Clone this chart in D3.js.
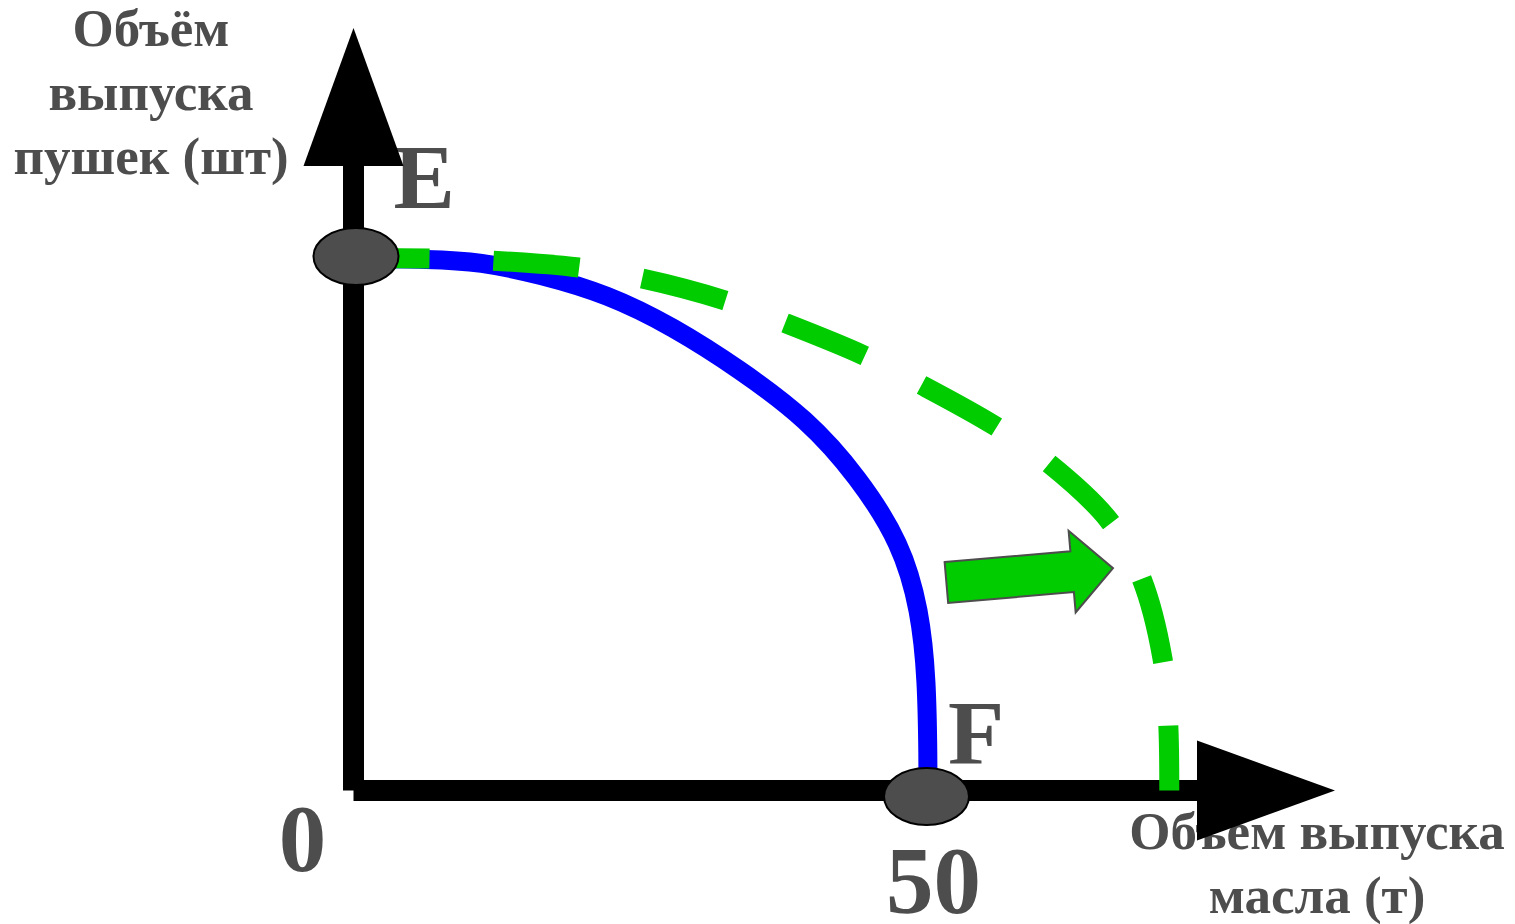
<!DOCTYPE html>
<html lang="ru">
<head>
  <meta charset="UTF-8" />
  <title>Кривая производственных возможностей</title>
  <script src="https://d3js.org/d3.v7.min.js"></script>
  <style>
    html, body { margin: 0; padding: 0; background: #fff; }
    svg { display: block; }
    .lbl { font-family: "Liberation Serif", "Times New Roman", serif; font-weight: bold; fill: #4d4d4d; }
  </style>
</head>
<body>
  <div id="chart"></div>

  <script>
    // исходная граница (синяя) и новая граница (зелёная пунктирная)
    const butterBase = [0, 6.7, 11, 16.2, 22.1, 27.8, 33.6, 39.5, 43.9, 47.7, 49.3, 49.9, 50, 50];
    const gunsBase   = [100, 99.9, 99.4, 97, 93.3, 87.2, 79.2, 69.8, 59, 46.4, 33.8, 21, 5.2, 0];
    const butterNew  = [0, 6.6, 12.1, 19.6, 25, 32.2, 37.3, 44.3, 49.2, 55.7, 60.4, 65.7, 68.5, 70.4, 70.9, 71];
    const gunsNew    = [100, 100, 99.6, 98.3, 96.3, 92.2, 88.1, 81.9, 76.5, 68.7, 61.7, 50.9, 40.3, 24.9, 12.9, 0];

    const pointNames = ["E", "F"];
    const pointButter = [0, 50];
    const pointGuns = [100, 0];

    const xTicks = [0, 50];
    const shiftFrom = [51.6, 39.1];   // стрелка сдвига: начало (масло, пушки)
    const shiftTo = [66.1, 41.8];     // конец

    const yTitle = ["Объём", "выпуска", "пушек (шт)"];
    const xTitle = ["Объем выпуска", "масла (т)"];

    const width = 1515, height = 924;
    const svg = d3.select("#chart").append("svg").attr("width", width).attr("height", height);

    const x = d3.scaleLinear().domain([0, 50]).range([353.5, 928]);
    const y = d3.scaleLinear().domain([0, 100]).range([790.5, 258.5]);

    const x0 = x(0), y0 = y(0);
    const xAxisEnd = 1197, xArrowTip = 1335;
    const yAxisEnd = 166, yArrowTip = 28;

    // подписи осей
    const yt = svg.append("text").attr("class", "lbl").attr("text-anchor", "middle").style("font-size", "53px");
    yTitle.forEach((t, i) => yt.append("tspan").attr("x", 151).attr("y", 46 + i * 64).text(t));

    const xt = svg.append("text").attr("class", "lbl").attr("text-anchor", "middle").style("font-size", "53px");
    xTitle.forEach((t, i) => xt.append("tspan").attr("x", 1317).attr("y", 849 + i * 64).text(t));

    // деления 0 и 50
    svg.append("text").attr("class", "lbl").attr("text-anchor", "middle").style("font-size", "95px")
      .attr("x", x(xTicks[0]) - 51).attr("y", 871).text(xTicks[0]);
    const axisG = svg.append("g").attr("transform", `translate(0,${y0})`)
      .call(d3.axisBottom(x).tickValues([xTicks[1]]).tickSize(0).tickPadding(0));
    axisG.select(".domain").remove();
    axisG.selectAll("text").attr("class", "lbl").attr("dy", null).attr("y", 122).attr("dx", 5)
      .style("font-size", "95px").style("font-family", "Liberation Serif").style("font-weight", "bold").attr("fill", "#4d4d4d");

    // буквы точек
    svg.selectAll(".ptname").data(pointNames).enter().append("text")
      .attr("class", "lbl ptname").style("font-size", "92px")
      .attr("x", (d, i) => x(pointButter[i]) + (i === 0 ? 40 : 20))
      .attr("y", (d, i) => y(pointGuns[i]) - (i === 0 ? 51 : 27))
      .text(d => d);

    // оси
    svg.append("line").attr("x1", x0).attr("y1", y0).attr("x2", x0).attr("y2", yAxisEnd)
      .attr("stroke", "#000").attr("stroke-width", 21);
    svg.append("line").attr("x1", x0).attr("y1", y0).attr("x2", xAxisEnd).attr("y2", y0)
      .attr("stroke", "#000").attr("stroke-width", 21);
    svg.append("polygon").attr("fill", "#000")
      .attr("points", [[x0, yArrowTip], [x0 - 50, yAxisEnd], [x0 + 50, yAxisEnd]].join(" "));
    svg.append("polygon").attr("fill", "#000")
      .attr("points", [[xArrowTip, y0], [xAxisEnd, y0 - 50], [xAxisEnd, y0 + 50]].join(" "));

    const smooth = d3.line().x(d => x(d[0])).y(d => y(d[1])).curve(d3.curveBasis);
    const line = d3.line().x(d => x(d[0])).y(d => y(d[1])).curve(d3.curveCatmullRom.alpha(0.5));

    svg.append("path").datum(d3.zip(butterBase, gunsBase))
      .attr("d", smooth).attr("fill", "none").attr("stroke", "#0000ff").attr("stroke-width", 19);

    svg.append("path").datum(d3.zip(butterNew, gunsNew))
      .attr("d", line).attr("fill", "none").attr("stroke", "#00cc00").attr("stroke-width", 20)
      .attr("stroke-dasharray", "86 64").attr("stroke-dashoffset", 10);

    // точки E и F
    svg.selectAll(".pt").data(pointNames).enter().append("ellipse")
      .attr("class", "pt")
      .attr("cx", (d, i) => x(pointButter[i]) + (i === 0 ? 2.5 : -1.5))
      .attr("cy", (d, i) => y(pointGuns[i]) + (i === 0 ? -2 : 6))
      .attr("rx", 42.5).attr("ry", 28.5)
      .attr("fill", "#4d4d4d").attr("stroke", "#000").attr("stroke-width", 2);

    // стрелка сдвига
    const T = [x(shiftFrom[0]), y(shiftFrom[1])], P = [x(shiftTo[0]), y(shiftTo[1])];
    const len = Math.hypot(P[0] - T[0], P[1] - T[1]);
    const u = [(P[0] - T[0]) / len, (P[1] - T[1]) / len], n = [u[1], -u[0]];
    const sw = 20.5, hw = 41, hl = 41;
    const S = [P[0] - u[0] * hl, P[1] - u[1] * hl];
    const off = (p, k) => [p[0] + n[0] * k, p[1] + n[1] * k];
    svg.append("polygon")
      .attr("points", [off(T, sw), off(S, sw), off(S, hw), P, off(S, -hw), off(S, -sw), off(T, -sw)].join(" "))
      .attr("fill", "#00cc00").attr("stroke", "#4d4d4d").attr("stroke-width", 2);
  </script>
</body>
</html>
